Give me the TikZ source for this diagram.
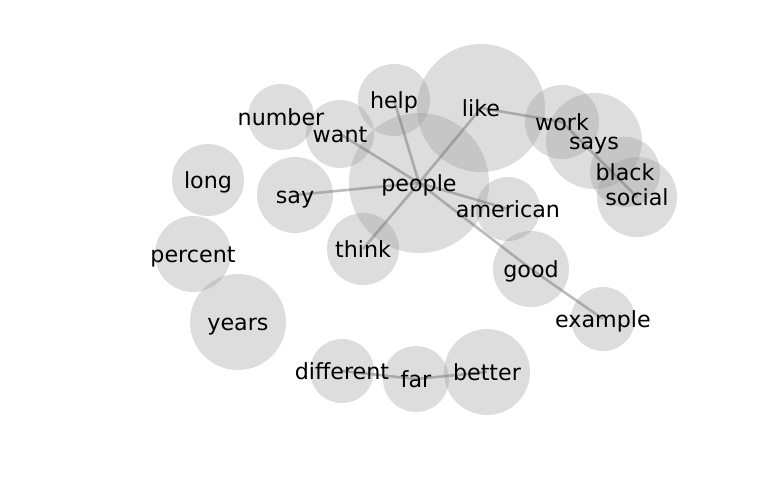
\documentclass[tikz,border=0pt]{standalone}
\usepackage{fontspec}
\setsansfont{DejaVu Sans}
\definecolor{bubblegray}{RGB}{150,150,150}
\definecolor{linkgray}{RGB}{120,120,120}

\begin{document}
\begin{tikzpicture}[x=0.5pt, y=-0.5pt,
    bubble/.style={circle, inner sep=0pt, fill=bubblegray, fill opacity=0.32, minimum size=#1 pt},
    link/.style={draw=linkgray, line width=1.3pt, opacity=0.5},
    word/.style={font=\sffamily\fontsize{11.1}{13}\selectfont, inner sep=0pt, text height=0.76em, text depth=0.24em, yshift=-1.4pt}]
        \useasboundingbox (0,0) rectangle (768,500);

        % bubbles (size = radius in px)
        \node (people) [bubble=70] at (419,183) {};
        \node (like) [bubble=64] at (481,108) {};
        \node (help) [bubble=36] at (394,100) {};
        \node (number) [bubble=33] at (281,117) {};
        \node (want) [bubble=34] at (340,134) {};
        \node (long) [bubble=36] at (208,180) {};
        \node (say) [bubble=38] at (295,195) {};
        \node (think) [bubble=36] at (363,249) {};
        \node (percent) [bubble=38] at (193,254) {};
        \node (years) [bubble=48] at (238,322) {};
        \node (american) [bubble=32] at (508,209) {};
        \node (good) [bubble=38] at (531,269) {};
        \node (example) [bubble=32] at (603,319) {};
        \node (work) [bubble=37] at (562,122) {};
        \node (says) [bubble=48] at (594,141) {};
        \node (black) [bubble=35] at (625,172) {};
        \node (social) [bubble=40] at (637,197) {};
        \node (different) [bubble=32] at (342,371) {};
        \node (far) [bubble=33] at (416,379) {};
        \node (better) [bubble=43] at (487,372) {};

        % links
        \draw [link] (people.center) -- (want.center);
        \draw [link] (people.center) -- (help.center);
        \draw [link] (people.center) -- (like.center);
        \draw [link] (people.center) -- (say.center);
        \draw [link] (people.center) -- (think.center);
        \draw [link] (people.center) -- (american.center);
        \draw [link] (people.center) -- (good.center);
        \draw [link] (good.center) -- (example.center);
        \draw [link] (like.center) -- (work.center);
        \draw [link] (work.center) -- (social.center);
        \draw [link] (different.center) -- (far.center);
        \draw [link] (far.center) -- (better.center);

        % words
        \foreach \w in {people, like, help, number, want, long, say, think, percent, years,
                        american, good, example, work, says, black, social, different, far, better}
          \node [word] at (\w) {\w};
\end{tikzpicture}
\end{document}
